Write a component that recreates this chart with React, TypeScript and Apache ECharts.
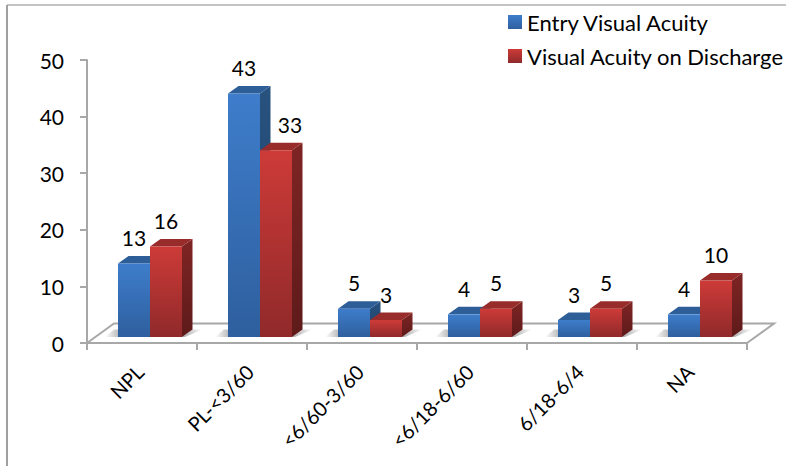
import React, { useEffect, useRef } from "react";
import * as echarts from "echarts";

const categories = ["NPL", "PL-<3/60", "<6/60-3/60", "<6/18-6/60", "6/18-6/4", "NA"];
const entryValues = [13, 43, 5, 4, 3, 4];
const dischargeValues = [16, 33, 3, 5, 5, 10];
const seriesNames = ["Entry Visual Acuity", "Visual Acuity on Discharge"];
const yTicks = { min: 0, max: 50, interval: 10 };

const FONT = "Lato";
const grad = (a: string, b: string) => new echarts.graphic.LinearGradient(0, 0, 0, 1, [
  { offset: 0, color: a },
  { offset: 1, color: b },
]);
const fadeH = (from: string, to: string) => new echarts.graphic.LinearGradient(0, 0, 1, 0, [
  { offset: 0, color: from },
  { offset: 1, color: to },
]);

const SKINS = [
  { front: ["#3e7dcb", "#2e5f9e"], top: "#2e5e98", side: ["#28527f", "#1f4068"] },
  { front: ["#cd3b38", "#90292a"], top: "#982c2b", side: ["#7e2524", "#5e1a1a"] },
];
const LABEL_NUDGE: Record<string, number> = { "1-1": 14 };

function makeRender(seriesIdx: number) {
  return (params: any, api: any) => {
    const cat = api.value(0);
    const val = api.value(1);
    const top = api.coord([cat, val]);
    const zero = api.coord([cat, 0]);
    const BAR = 32, DX = 10.5, DY = 7.5, LIFT = 6;
    const x0 = top[0] - 24 + seriesIdx * BAR;
    const x1 = x0 + BAR;
    const yT = top[1] - LIFT;
    const yB = zero[1] - LIFT;
    const s = SKINS[seriesIdx];
    const children: any[] = [];
    if (seriesIdx === 0) {
      children.push({
        type: "polygon",
        shape: { points: [[x0, yB], [x0 - 13, yB], [x0 - 4, yB - DY], [x0 + 6, yB - DY]] },
        style: { fill: fadeH("rgba(130,130,130,0)", "rgba(130,130,130,0.75)") },
      });
    } else {
      children.push({
        type: "polygon",
        shape: { points: [[x1, yB], [x1 + 3, yB], [x1 + DX + 10, yB - DY], [x1 + DX, yB - DY]] },
        style: { fill: fadeH("rgba(130,130,130,0.7)", "rgba(130,130,130,0)") },
      });
    }
    children.push({
      type: "polygon",
      shape: { points: [[x1, yT], [x1 + DX, yT - DY], [x1 + DX, yB - DY], [x1, yB]] },
      style: { fill: grad(s.side[0], s.side[1]) },
    });
    children.push({
      type: "polygon",
      shape: { points: [[x0, yT], [x0 + DX, yT - DY], [x1 + DX, yT - DY], [x1, yT]] },
      style: { fill: s.top },
    });
    children.push({
      type: "rect",
      shape: { x: x0, y: yT, width: BAR, height: yB - yT },
      style: { fill: grad(s.front[0], s.front[1]) },
    });
    const nudge = LABEL_NUDGE[`${cat}-${seriesIdx}`] || 0;
    children.push({
      type: "text",
      style: {
        text: String(val),
        x: x0 + BAR / 2 + nudge,
        y: yT - 26,
        align: "center",
        verticalAlign: "middle",
        fontFamily: FONT,
        fontSize: 21,
        fill: "#000",
      },
    });
    return { type: "group", children };
  };
}

export default function App() {
  const ref = useRef<HTMLDivElement>(null);
  useEffect(() => {
    document.body.style.margin = "0";
    document.body.style.background = "#fff";
    const chart = echarts.init(ref.current!, null, { renderer: "svg" });
    const axisLine = { lineStyle: { color: "#a8a8a8", width: 2 } };
    chart.setOption({
      animation: false,
      backgroundColor: "#fff",
      grid: { left: 87, top: 60, width: 660, height: 283, containLabel: false },
      legend: {
        orient: "vertical",
        left: 508,
        top: 11,
        padding: 0,
        itemWidth: 14,
        itemHeight: 14,
        itemGap: 12,
        icon: "rect",
        selectedMode: false,
        textStyle: { fontFamily: FONT, fontSize: 22, color: "#000", lineHeight: 22 },
        data: [
          { name: seriesNames[0], itemStyle: { color: grad("#3e7dcb", "#2e5f9e") } },
          { name: seriesNames[1], itemStyle: { color: grad("#cd3b38", "#90292a") } },
        ],
      },
      xAxis: {
        type: "category",
        data: categories,
        axisLine: { ...axisLine, onZero: false },
        axisTick: { show: true, length: 7, alignWithLabel: false, lineStyle: { color: "#a8a8a8", width: 2 } },
        axisLabel: { rotate: 45, interval: 0, margin: 23, padding: [0, 3, 0, 0], fontFamily: FONT, fontSize: 20, color: "#000" },
        splitLine: { show: false },
      },
      yAxis: {
        type: "value",
        min: yTicks.min,
        max: yTicks.max,
        interval: yTicks.interval,
        axisLine: { show: true, ...axisLine },
        axisTick: { show: true, length: 7, lineStyle: { color: "#a8a8a8", width: 2 } },
        axisLabel: { margin: 23, fontFamily: FONT, fontSize: 21, color: "#000" },
        splitLine: { show: false },
      },
      graphic: [
        { type: "line", z: 0, shape: { x1: 7, y1: 5, x2: 786, y2: 5 }, style: { stroke: "#c4c4c4", lineWidth: 2 } },
        { type: "line", z: 0, shape: { x1: 7, y1: 5, x2: 7, y2: 466 }, style: { stroke: "#a0a0a0", lineWidth: 2 } },
        {
          type: "polyline",
          z: 0,
          shape: { points: [[87, 343], [114, 323.5], [774, 323.5], [747, 343]] },
          style: { stroke: "#a8a8a8", lineWidth: 2, fill: "none" },
        },
      ],
      series: [entryValues, dischargeValues].map((vals, i) => ({
        type: "custom",
        name: seriesNames[i],
        renderItem: makeRender(i),
        encode: { x: 0, y: 1 },
        data: vals.map((v, c) => [c, v]),
        itemStyle: { color: SKINS[i].front[0] },
      })),
    });
    return () => chart.dispose();
  }, []);
  return <div ref={ref} style={{ width: 786, height: 466 }} />;
}
